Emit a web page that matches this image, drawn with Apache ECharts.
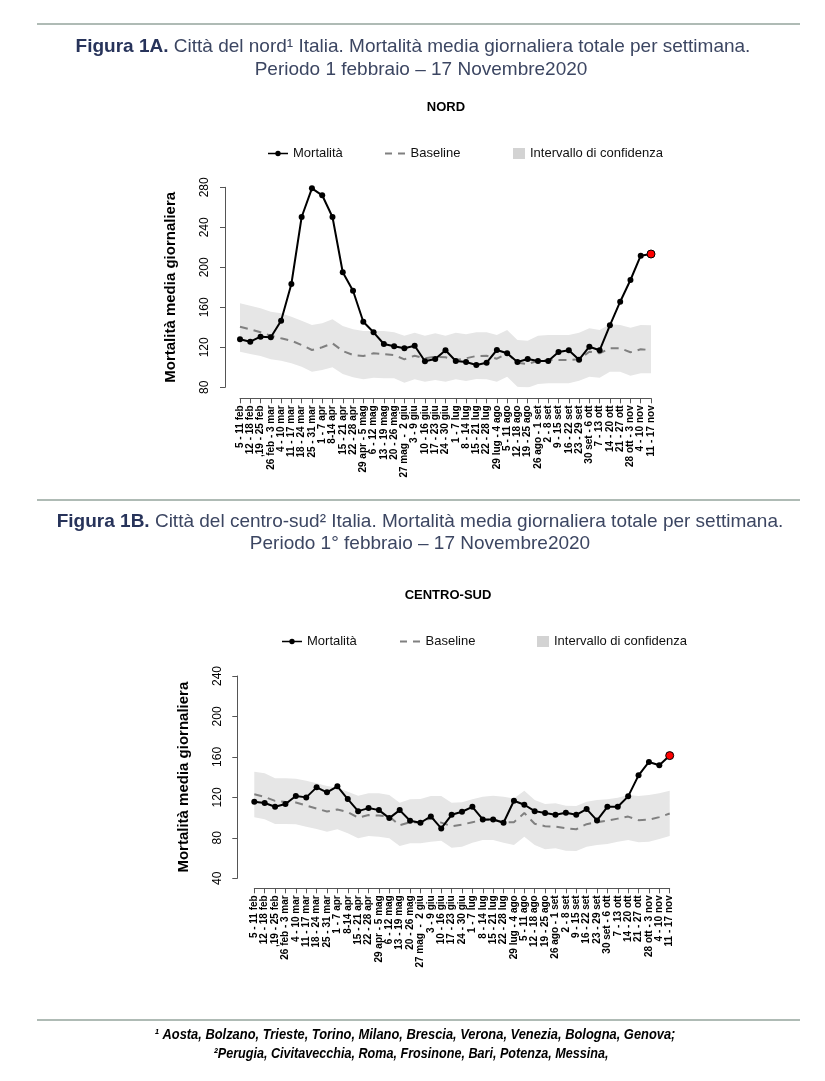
<!DOCTYPE html>
<html>
<head>
<meta charset="utf-8">
<script src="https://cdn.jsdelivr.net/npm/echarts@6/dist/echarts.min.js"></script>
<style>
html,body{margin:0;padding:0;background:#fff;}
#chart{width:825px;height:1081px;}
</style>
</head>
<body>
<div id="chart"></div>
<script>
var categories = ['5 - 11 feb','12 - 18 feb',',19 - 25 feb','26 feb - 3 mar','4 - 10 mar','11 - 17 mar','18 - 24 mar','25 - 31 mar','1 - 7 apr','8-14 apr','15 - 21 apr','22 - 28 apr','29 apr - 5 mag','6 - 12 mag','13 - 19 mag','20 - 26 mag','27 mag  -  2 giu','3 - 9 giu','10 - 16 giu','17 - 23 giu','24 - 30 giu','1 - 7 lug','8 - 14 lug','15 - 21 lug','22 - 28 lug','29 lug - 4 ago','5 - 11 ago','12 - 18 ago','19 - 25 ago','26 ago - 1 set','2 - 8 set','9 - 15 set','16 - 22 set','23 - 29 set','30 set - 6 ott','7 - 13 ott','14 - 20 ott','21 - 27 ott','28 ott - 3 nov','4 - 10 nov','11 - 17 nov'];

// NORD
var nordMortalita = [128,125.6,130.6,130,146.6,183.3,250.3,279,272,250.3,195,176.6,145.6,135,123.3,121,119,121.6,106,108.3,117,106.3,105.3,102.3,104.6,117.3,114,105.3,108.3,106.3,106.3,115.3,117,107.6,120.6,117,142,165.6,187.3,211.6,213.3];
var nordBaseline = [140.6,138,135,131.6,129,126.6,122.3,117.3,120,124,116.3,112.3,111.3,114,113.3,112.3,108,111.6,109,110.6,110,107.3,109,111.3,111.6,108.6,114,104.6,103.3,106.6,107.3,107.3,107.3,108,115.6,114,119,119,115,118,117.3];
var nordUpper = [164,161.6,159,155.6,154,150.6,146.6,142.3,144,148,141.3,138,136.3,136.3,136.3,135,131.6,134.6,131.6,134,131.6,134.6,133,135,135,132.3,137.3,127.3,126.6,131.6,132.3,132.3,132.3,134.6,139,137.3,143,142.3,139.6,142.3,142];
var nordLower = [115.6,113.3,111.3,108,106.6,104,100.6,95.6,97.3,100,93.3,90,88,89.6,89,89,84.6,88,85.6,87.3,85.6,88,86.3,88.3,88,85.6,90.6,80.6,79.5,83.3,84,84,84,86.6,90.6,89.6,95.6,95.6,91.6,94,94];

// CENTRO-SUD
var sudMortalita = [115.7,114.4,110.7,113.4,121.3,120,129.9,125,130.9,118.3,106.4,109.4,107.4,99.5,107.4,96.9,94.9,101.2,89.3,102.8,105.8,110.7,98.2,98.2,94.9,116.7,112.7,106.4,104.5,102.8,104.8,102.8,108.4,97.2,110.7,110.7,121,141.8,155,151.7,161.3];
var sudBaseline = [123,120.5,116.5,115.5,115,112,109,106,108,105.5,100,102.5,102,101,92.5,95.5,95,99.5,95,91.5,93,95.5,97.5,98,95.5,95.5,104.5,94,91.5,91,89.5,88.5,93.5,95.5,97,99,101,97.5,98,100.5,104];
var sudUpper = [145.4,143.8,138.9,138.9,138.3,136.5,133.9,131.2,129.6,125.6,121.7,124,124,122.3,114.8,118.1,118.4,121.4,121.4,114.8,115.1,118.1,120.7,121.7,120.7,119,126.6,117.5,113.5,114.1,111.8,111.5,115.7,117.4,118.1,119.7,122.3,121.4,122.3,124,126.6];
var sudLower = [100.3,98.3,93.7,93.7,93.4,91,88.7,86.1,88.4,84.5,79.5,81.8,81.1,79.5,71.9,74.6,74.6,76.2,77.2,70.3,71.2,75.2,77.9,77.9,75.2,72.9,81.1,72.9,68.7,69.7,67.3,67,71.2,72.9,73.9,76.2,77.9,75.6,76.2,78.8,81.8];

var nordTicks = [80,120,160,200,240,280];
var sudTicks = [40,80,120,160,200,240];

var FONT = "'Liberation Sans', Arial, sans-serif";
var AXISCOL = '#555';
var ICON_MORT = 'path://M0,2.3 h20 v1.4 h-20 z M7.3,3 a2.7,2.7 0 1,1 5.4,0 a2.7,2.7 0 1,1 -5.4,0 z';
var ICON_BASE = 'path://M0,0 h7 v2 h-7 z M13,0 h7 v2 h-7 z';

function diff(a, b){ return a.map(function(v,i){ return +(v - b[i]).toFixed(2); }); }
function mortData(arr){
  return arr.map(function(v,i){
    if (i === arr.length - 1) return {value: v, symbolSize: 8, itemStyle: {color: '#ff0000', borderColor: '#000', borderWidth: 1}};
    return v;
  });
}

function xAxisCfg(gi, off){
  return {
    type: 'category', gridIndex: gi, data: categories, boundaryGap: false, offset: off,
    axisLine: {lineStyle: {color: AXISCOL, width: 1}},
    axisTick: {interval: 0, length: 5, lineStyle: {color: AXISCOL}},
    axisLabel: {interval: 0, rotate: 90, fontSize: 10, fontWeight: 'bold', color: '#000', fontFamily: FONT, margin: 7},
    splitLine: {show: false}
  };
}
function yAxisCfg(gi, ticks, off, gap){
  return {
    type: 'value', gridIndex: gi, min: ticks[0], max: ticks[ticks.length-1], interval: ticks[1]-ticks[0], offset: off,
    axisLine: {show: true, lineStyle: {color: AXISCOL, width: 1}},
    axisTick: {show: true, length: 5, lineStyle: {color: AXISCOL}},
    axisLabel: {rotate: 90, fontSize: 12, color: '#000', fontFamily: FONT, margin: 14},
    splitLine: {show: false},
    name: 'Mortalità media giornaliera', nameLocation: 'middle', nameGap: gap,
    nameTextStyle: {fontSize: 15, fontWeight: 'bold', color: '#000', fontFamily: FONT}
  };
}
function seriesSet(gi, stackId, mort, base, up, lo){
  return [
    {name: 'lower' + stackId, type: 'line', xAxisIndex: gi, yAxisIndex: gi, stack: stackId, data: lo,
     symbol: 'none', lineStyle: {width: 0, opacity: 0}, silent: true, z: 1},
    {name: 'Intervallo di confidenza', type: 'line', xAxisIndex: gi, yAxisIndex: gi, stack: stackId, data: diff(up, lo),
     symbol: 'none', color: '#d3d3d3', lineStyle: {width: 0, opacity: 0}, areaStyle: {color: '#e6e6e6', opacity: 1}, silent: true, z: 1},
    {name: 'Baseline', type: 'line', xAxisIndex: gi, yAxisIndex: gi, data: base, symbol: 'none', color: '#808080',
     lineStyle: {color: '#808080', width: 2, type: [8, 6]}, z: 2},
    {name: 'Mortalità', type: 'line', xAxisIndex: gi, yAxisIndex: gi, data: mortData(mort), symbol: 'circle', symbolSize: 6,
     color: '#000', itemStyle: {color: '#000'}, lineStyle: {color: '#000', width: 2}, z: 3}
  ];
}
function legends(top, xs){
  var ts = {fontSize: 13, color: '#111', fontFamily: FONT};
  return [
    {top: top, left: xs[0], padding: 0, itemWidth: 20, itemHeight: 6, data: [{name: 'Mortalità', icon: ICON_MORT}], textStyle: ts, selectedMode: false},
    {top: top, left: xs[1], padding: 0, itemWidth: 21, itemHeight: 2, data: [{name: 'Baseline', icon: ICON_BASE}], textStyle: ts, selectedMode: false},
    {top: top, left: xs[2], padding: 0, itemWidth: 12, itemHeight: 11, data: [{name: 'Intervallo di confidenza', icon: 'rect'}], textStyle: ts, selectedMode: false}
  ];
}

var titleRich = {
  b: {fontSize: 19, fontWeight: 'bold', fill: '#27335a', fontFamily: FONT},
  n: {fontSize: 19, fill: '#3c4662', fontFamily: FONT}
};
function rule(y){ return {type: 'line', shape: {x1: 37, y1: y, x2: 800, y2: y}, style: {stroke: '#94a59c', lineWidth: 1.5}}; }
function txt(x, y, t, style, extra){ return Object.assign({type: 'text', x: x, y: y, style: Object.assign({text: t, align: 'center', verticalAlign: 'middle', fontFamily: FONT}, style)}, extra || {}); }
var footStyle = {fontSize: 14, fontWeight: 'bold', fontStyle: 'italic', fill: '#000'};

var option = {
  animation: false,
  backgroundColor: '#fff',
  grid: [
    {left: 240, top: 187.3, width: 411, height: 200, containLabel: false},
    {left: 254.3, top: 676, width: 415.4, height: 202.3, containLabel: false}
  ],
  xAxis: [xAxisCfg(0, 11), xAxisCfg(1, 10)],
  yAxis: [yAxisCfg(0, nordTicks, 15, 47), yAxisCfg(1, sudTicks, 17, 46)],
  legend: legends(147, [268, 385, 513]).concat(legends(635, [282, 400, 537])),
  series: seriesSet(0, 'bandN', nordMortalita, nordBaseline, nordUpper, nordLower)
    .concat(seriesSet(1, 'bandS', sudMortalita, sudBaseline, sudUpper, sudLower)),
  graphic: [
    rule(24), rule(500), rule(1020),
    txt(413, 47, '{b|Figura 1A.}{n| Città del nord¹ Italia. Mortalità media giornaliera totale per settimana.}', {rich: titleRich}),
    txt(421, 70, 'Periodo 1 febbraio – 17 Novembre2020', {fontSize: 19, fill: '#3c4662'}),
    txt(446, 107, 'NORD', {fontSize: 13, fontWeight: 'bold', fill: '#000'}),
    txt(420, 522, '{b|Figura 1B.}{n| Città del centro-sud² Italia. Mortalità media giornaliera totale per settimana.}', {rich: titleRich}),
    txt(420, 544, 'Periodo 1° febbraio – 17 Novembre2020', {fontSize: 19, fill: '#3c4662'}),
    txt(448, 595, 'CENTRO-SUD', {fontSize: 13, fontWeight: 'bold', fill: '#000'}),
    txt(415, 1035, '¹ Aosta, Bolzano, Trieste, Torino, Milano, Brescia, Verona, Venezia, Bologna, Genova;', footStyle, {scaleX: 0.92}),
    txt(411, 1054, '²Perugia, Civitavecchia, Roma, Frosinone, Bari, Potenza, Messina,', footStyle, {scaleX: 0.9})
  ]
};

var chart = echarts.init(document.getElementById('chart'), null, {renderer: 'canvas'});
chart.setOption(option);
</script>
</body>
</html>
